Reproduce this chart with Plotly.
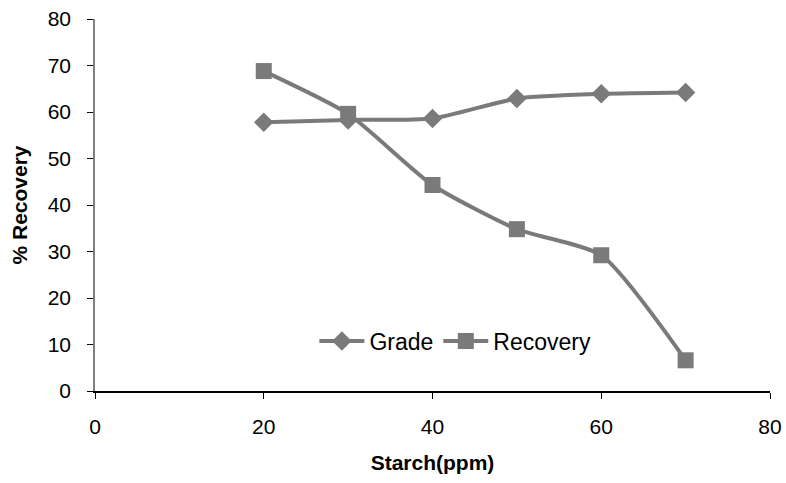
import plotly.graph_objects as go

# Starch dosage (ppm) and flotation results
starch_ppm = [20, 30, 40, 50, 60, 70]
grade = [57.8, 58.3, 58.6, 62.9, 63.9, 64.2]
recovery = [68.8, 59.6, 44.3, 34.8, 29.2, 6.6]

line_color = "#7a7a7a"
font_family = "Liberation Sans, Arial, sans-serif"

fig = go.Figure()
fig.add_trace(go.Scatter(
    x=starch_ppm, y=grade, name="Grade", mode="lines+markers",
    line=dict(color=line_color, width=4, shape="spline", smoothing=0.6),
    marker=dict(symbol="diamond", size=15, color=line_color),
))
fig.add_trace(go.Scatter(
    x=starch_ppm, y=recovery, name="Recovery", mode="lines+markers",
    line=dict(color=line_color, width=4, shape="spline", smoothing=0.6),
    marker=dict(symbol="square", size=16, color=line_color),
))

fig.update_layout(
    width=786, height=483,
    margin=dict(l=95, r=16, t=19, b=92),
    paper_bgcolor="white", plot_bgcolor="white",
    font=dict(family=font_family, size=21, color="black"),
    showlegend=True,
    legend=dict(
        orientation="h", x=0.325, y=0.134, xanchor="left", yanchor="middle",
        bgcolor="rgba(0,0,0,0)", font=dict(size=23), itemwidth=45,
    ),
    xaxis=dict(
        range=[0, 80], tickvals=[0, 20, 40, 60, 80], showgrid=False, zeroline=False,
        showline=True, linecolor="black", linewidth=1.5, automargin=False,
        ticks="outside", ticklen=6, tickcolor="black", tickfont=dict(size=21),
        ticklabelstandoff=10,
        title=dict(text="<b>Starch(ppm)</b>", font=dict(size=21), standoff=18),
    ),
    yaxis=dict(
        range=[0, 80], tickvals=list(range(0, 81, 10)), showgrid=False, zeroline=False,
        showline=True, linecolor="#808080", linewidth=1.5, automargin=False,
        ticks="outside", ticklen=6, tickcolor="black", tickfont=dict(size=21),
        ticklabelstandoff=12,
        title=dict(text="<b>% Recovery</b>", font=dict(size=21), standoff=14),
    ),
)

fig.write_html("out.html")
